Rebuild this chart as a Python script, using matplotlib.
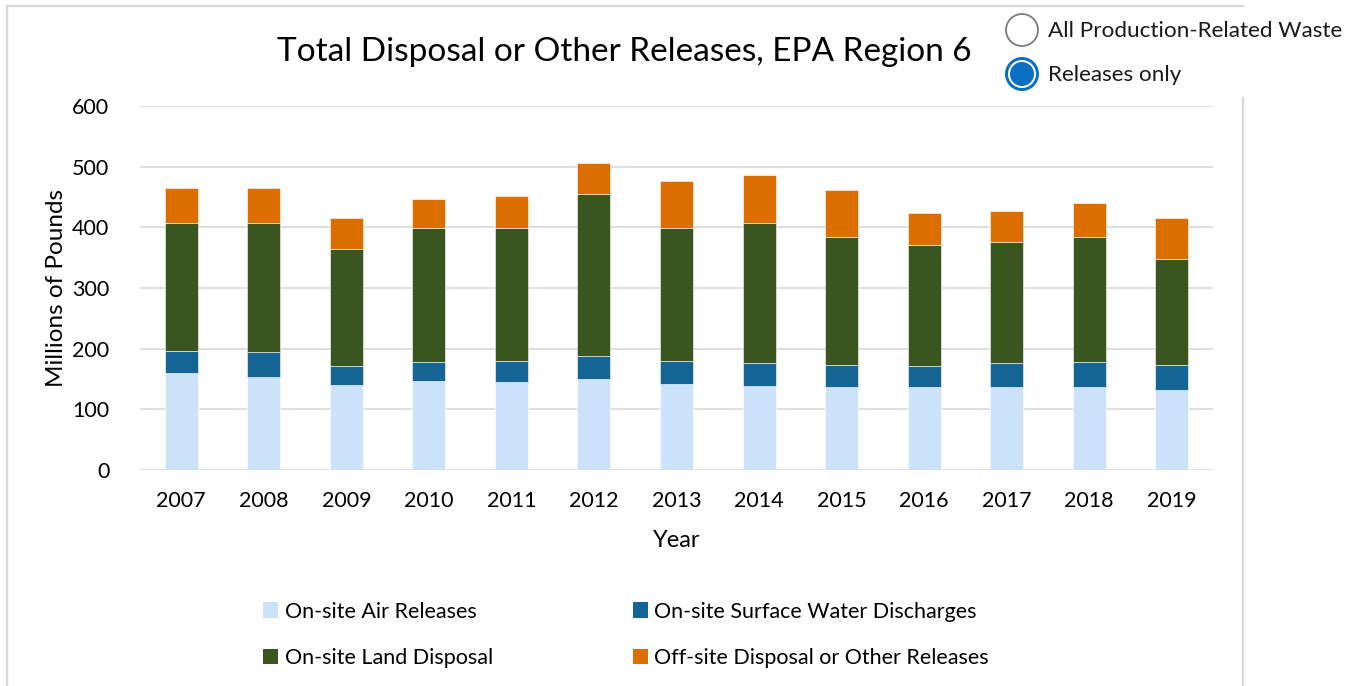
import numpy as np
import matplotlib.pyplot as plt
from matplotlib.patches import Circle, Patch

plt.rcParams['font.family'] = ['Lato', 'DejaVu Sans']

# dados (milhões de libras)
years = ['2007', '2008', '2009', '2010', '2011', '2012', '2013',
         '2014', '2015', '2016', '2017', '2018', '2019']
air = [159.3, 153.8, 139.6, 146.2, 144.5, 149.5, 141.2, 137.9, 136.3, 136.3, 136.3, 136.3, 131.3]
water = [36.3, 40.2, 31.8, 31.8, 34.5, 37.9, 37.8, 38.5, 36.2, 34.6, 39.5, 41.7, 41.7]
land = [211.4, 213.7, 192.3, 221.5, 220.0, 267.0, 220.5, 231.3, 212.1, 200.5, 199.5, 205.5, 175.4]
offsite = [58.4, 56.6, 51.7, 47.2, 52.0, 51.6, 76.9, 78.6, 77.4, 51.6, 51.7, 56.5, 67.0]

labels = ['On-site Air Releases', 'On-site Surface Water Discharges',
          'On-site Land Disposal', 'Off-site Disposal or Other Releases']
colors = ['#CCE2FA', '#146496', '#3A5520', '#DC6E00']

W, H = 1359, 686
fig = plt.figure(figsize=(W / 100, H / 100), dpi=100)

# moldura e botões (camada de fundo em pixels)
bg = fig.add_axes([0, 0, 1, 1], zorder=0)
bg.set_xlim(0, W)
bg.set_ylim(H, 0)
bg.axis('off')
frame_c = '#D9D9D9'
bg.plot([7, 7], [6, H], color=frame_c, lw=1.6)
bg.plot([7, 1243], [6, 6], color=frame_c, lw=1.6)
bg.plot([1243, 1243], [98, H], color=frame_c, lw=1.6)

bg.add_patch(Circle((1022, 30), 16, facecolor='white', edgecolor='#7A7A7A', lw=1.3))
bg.add_patch(Circle((1022, 74), 17, facecolor='#0A6FC2', edgecolor='none'))
bg.add_patch(Circle((1022, 74), 14, facecolor='white', edgecolor='none'))
bg.add_patch(Circle((1022, 74), 12, facecolor='#0A6FC2', edgecolor='none'))
bg.text(1048, 31, 'All Production-Related Waste', fontsize=16.2, va='center', ha='left', color='#1A1A1A')
bg.text(1048, 75, 'Releases only', fontsize=16.2, va='center', ha='left', color='#1A1A1A')

# gráfico
ax = fig.add_axes([140 / W, 1 - 470 / H, (1213 - 140) / W, (470 - 106) / H], zorder=1)
ax.patch.set_alpha(0)
x = np.arange(len(years))
bottom = np.zeros(len(years))
for vals, lab, col in zip([air, water, land, offsite], labels, colors):
    ax.bar(x, vals, width=0.4, bottom=bottom, color=col, label=lab,
           edgecolor='white', linewidth=0.4, zorder=3)
    bottom += np.array(vals)

ax.set_xlim(-0.5, len(years) - 0.5)
ax.set_ylim(0, 600)
ax.set_yticks(range(0, 601, 100))
ax.set_xticks(x)
ax.set_xticklabels(years)
ax.grid(axis='y', color='#D9D9D9', lw=1.2, zorder=0)
for s in ax.spines.values():
    s.set_visible(False)
ax.tick_params(axis='both', length=0, labelsize=15.5, colors='black')
ax.tick_params(axis='y', pad=22)
ax.tick_params(axis='x', pad=15)
ax.set_xlabel('Year', fontsize=17, labelpad=14)
ax.set_ylabel('Millions of Pounds', fontsize=17.5, labelpad=4)

fig.text(624 / W, 1 - 52 / H, 'Total Disposal or Other Releases, EPA Region 6',
         fontsize=24, ha='center', va='center')

# ordem por colunas para ficar como no original (linha 1: ar, água)
order = [0, 2, 1, 3]
handles = [Patch(facecolor=colors[i]) for i in order]
fig.legend(handles, [labels[i] for i in order], loc='center',
           bbox_to_anchor=(626 / W, 1 - 635 / H),
           ncol=2, frameon=False, fontsize=15.5, handlelength=0.7, handleheight=0.7,
           handletextpad=0.3, columnspacing=6.5, labelspacing=1.25)

plt.savefig('out.png', dpi=100)
